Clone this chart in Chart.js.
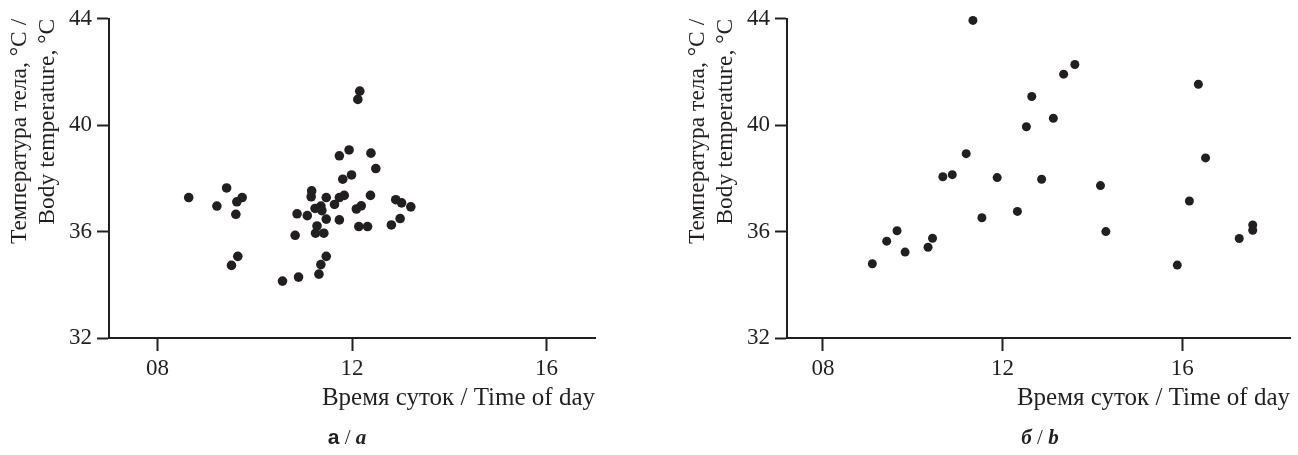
<!DOCTYPE html>
<html><head><meta charset="utf-8">
<script src="https://cdn.jsdelivr.net/npm/chart.js@4"></script>
<style>
html,body{margin:0;padding:0;background:#fff;}
body{width:1298px;height:455px;position:relative;overflow:hidden;}
.wrap{position:absolute;top:0;height:455px;}
.cap{position:absolute;top:425px;font:bold italic 21px "Liberation Serif",serif;color:#231f20;transform:translateX(-50%);white-space:nowrap;}
.cap .s{font-family:"Liberation Sans",sans-serif;font-style:normal;}
.cap .n{font-weight:normal;font-style:normal;}
</style></head>
<body>
<div class="wrap" style="left:0;width:640px"><canvas id="ca"></canvas></div>
<div class="wrap" style="left:678px;width:620px"><canvas id="cb"></canvas></div>
<div class="cap" style="left:347px"><span class="s">а</span> <span class="n">/</span> a</div>
<div class="cap" style="left:1040px">б <span class="n">/</span> b</div>
<script>
// ---- data ----
const xTickValues = [8, 12, 16];
const xTickLabels = ['08', '12', '16'];
const yTickValues = [32, 36, 40, 44];
const yTitle = ['Температура тела, °C /', 'Body temperature, °C'];
const xTitle = 'Время суток / Time of day';

const timeA = [8.64,9.42,9.22,9.74,9.63,9.61,9.65,9.52,10.57,10.90,11.32,11.36,11.47,10.83,10.87,11.08,11.28,11.25,11.42,11.47,11.24,11.36,11.38,11.17,11.16,11.47,11.64,11.74,11.84,11.74,12.09,12.19,12.38,12.14,12.32,11.81,11.99,12.49,12.90,13.02,13.21,12.99,12.81,12.16,12.12,11.94,11.74,12.39];
const tempA = [37.28,37.64,36.96,37.28,37.12,36.65,35.07,34.73,34.14,34.29,34.40,34.76,35.07,35.86,36.67,36.60,36.21,35.94,35.94,36.47,36.87,36.96,36.79,37.53,37.31,37.28,37.02,37.28,37.36,36.44,36.85,36.97,37.36,36.19,36.19,37.97,38.13,38.37,37.20,37.08,36.93,36.49,36.25,41.28,40.97,39.07,38.85,38.95];

const timeB = [11.34,11.19,10.67,10.88,11.88,12.87,14.18,11.54,12.33,14.30,9.65,9.42,9.83,10.44,10.34,9.10,13.61,13.36,12.65,13.13,12.53,16.36,16.52,16.16,15.89,17.27,17.57,17.57];
const tempB = [43.94,38.93,38.06,38.14,38.03,37.97,37.73,36.52,36.76,36.00,36.03,35.64,35.23,35.75,35.41,34.79,42.28,41.92,41.08,40.26,39.94,41.54,38.77,37.15,34.74,35.74,36.25,36.05];

const INK = '#231f20';
const FONT = '"Liberation Serif", "Times New Roman", serif';

function makeChart(id, xs, ys, xmin, xmax, padRight, radius) {
  const pts = xs.map((x, i) => ({x: x, y: ys[i]}));
  return new Chart(document.getElementById(id), {
    type: 'scatter',
    data: {datasets: [{data: pts, backgroundColor: INK, borderWidth: 0, pointRadius: radius, pointHoverRadius: radius, clip: false}]},
    options: {
      responsive: false, animation: false, events: [],
      layout: {padding: {left: 0, top: 16, right: padRight, bottom: 0}},
      plugins: {legend: {display: false}, tooltip: {enabled: false}},
      scales: {
        x: {
          type: 'linear', min: xmin, max: xmax,
          afterBuildTicks: s => { s.ticks = xTickValues.map(v => ({value: v})); },
          afterFit: s => { s.height = 117; },
          ticks: {color: INK, font: {family: FONT, size: 23}, padding: 4,
                  callback: (v) => xTickLabels[xTickValues.indexOf(v)] ?? ''},
          grid: {display: true, drawOnChartArea: false, drawTicks: true, tickLength: 13, tickWidth: 2, color: INK},
          border: {display: true, color: INK, width: 2},
          title: {display: true, text: xTitle, align: 'end', color: INK, font: {family: FONT, size: 25, lineHeight: 1.2}, padding: {top: 0, bottom: 42}}
        },
        y: {
          type: 'linear', min: 32, max: 44,
          afterBuildTicks: s => { s.ticks = yTickValues.map(v => ({value: v})); },
          afterFit: s => { s.width = 109; },
          ticks: {color: INK, font: {family: FONT, size: 23}, padding: 5},
          grid: {display: true, drawOnChartArea: false, drawTicks: true, tickLength: 12, tickWidth: 2, color: INK},
          border: {display: true, color: INK, width: 2},
          title: {display: true, text: yTitle, align: 'end', color: INK, font: {family: FONT, size: 23.5, lineHeight: 1.18}, padding: {top: 6, bottom: 0}}
        }
      }
    }
  });
}
const ca = document.getElementById('ca'); ca.width = 640; ca.height = 455;
const cb = document.getElementById('cb'); cb.width = 620; cb.height = 455;
makeChart('ca', timeA, tempA, 7, 17, 45, 4.8);
makeChart('cb', timeB, tempB, 7.2, 18.4, 8, 4.5);
</script>
</body></html>
